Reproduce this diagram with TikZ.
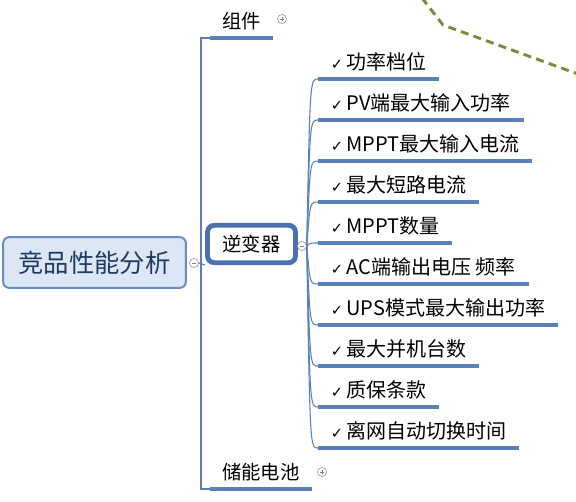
\documentclass[tikz,border=0pt]{standalone}
\usepackage{fontspec}
\setmainfont{Noto Sans CJK SC}
\newfontfamily\symfont{DejaVu Sans}
\usepackage{tikz}
\usetikzlibrary{positioning}

\definecolor{linkblue}{HTML}{5A80B8}
\definecolor{rootfill}{HTML}{DCE6F4}
\definecolor{rootdraw}{HTML}{6A8CC0}
\definecolor{rootink}{HTML}{1F3A5F}
\definecolor{invdraw}{HTML}{4A70B0}
\definecolor{relgreen}{HTML}{7A8C3C}

\newcommand{\tickmark}{{\symfont\fontsize{11pt}{11pt}\selectfont ✓}\hspace{2.5pt}}

\begin{document}
\begin{tikzpicture}[x=0.75pt,y=-0.75pt]

	%\draw[help lines,step=50] (0,0) grid (576,501);
	\useasboundingbox (0,0) rectangle (576,501);

	\tikzset{conn/.style={draw=linkblue,line width=0.8pt},
		uline/.style={draw=linkblue,line width=2.3pt},
		item/.style={anchor=south west,inner xsep=9.5pt,inner ysep=0pt,text height=11pt,text depth=7pt,font=\fontsize{15pt}{15pt}\selectfont},
		topic/.style={item,inner xsep=9pt,font=\fontsize{14.5pt}{14.5pt}\selectfont},
		fold/.style={draw=gray!90,circle,fill=white,inner sep=0pt,minimum size=6.8pt,line width=0.4pt},
		foldminus/.style={fold,path picture={\draw[gray,line width=0.4pt] ([xshift=-1.8pt]path picture bounding box.center) -- ([xshift=1.8pt]path picture bounding box.center);}},
		foldplus/.style={fold,path picture={\draw[gray,line width=0.4pt] ([xshift=-1.8pt]path picture bounding box.center) -- ([xshift=1.8pt]path picture bounding box.center) ([yshift=-1.8pt]path picture bounding box.center) -- ([yshift=1.8pt]path picture bounding box.center);}},
		relline/.style={draw=relgreen,line width=2.2pt,dash pattern=on 6pt off 4pt}}

	% relationship line (off to the right)

	\coordinate (relA) at (422,-2);
	\coordinate (relB) at (443,25);
	\coordinate (relC) at (578,74);
	\draw[relline] (relA) -- (relB) -- (relC);

	% central topic

	\node[draw=rootdraw,fill=rootfill,line width=1.5pt,rounded corners=4.5pt,minimum width=137pt,minimum height=38pt,text=rootink,font=\fontsize{19pt}{19pt}\selectfont] (root) at (94.5,262.5) {竞品性能分析};
	\node[foldminus] (rootc) at (194,263) {};

	% main branches

	\node[draw=invdraw,line width=3.6pt,rounded corners=5pt,minimum width=66pt,minimum height=28pt,font=\fontsize{14.5pt}{14.5pt}\selectfont] (inv) at (251.5,244) {逆变器};
	\node[topic] (zj) at (210,38) {组件};
	\node[topic] (cn) at (210,489) {储能电池};

	\coordinate (lhub) at (201,263);
	\draw[conn] (rootc.east) -- (inv.south west);
	\draw[conn] (lhub) |- (zj.south west);
	\draw[conn] (lhub) |- (cn.south west);
	\draw[uline] (zj.south west) -- (zj.south east);
	\draw[uline] (cn.south west) -- (cn.south east);

	\node[foldplus] (zjc) at (282,19) {};
	\node[foldplus] (cnc) at (322,472) {};
	\node[foldminus] (invc) at (302,246) {};

	% inverter items

	\foreach \yu/\txt [count=\k] in {79/功率档位, 120/PV端最大输入功率, 161/MPPT最大输入电流, 202/最大短路电流, 243/MPPT数量, 284/AC端输出电压 频率, 325/UPS模式最大输出功率, 366/最大并机台数, 407/质保条款, 448/离网自动切换时间} {
		\node[item] (i\k) at (318,\yu) {\tickmark\txt};
		\draw[conn] (invc.east) .. controls (310,\yu) and (310,\yu) .. (i\k.south west);
		\draw[uline] (i\k.south west) -- (i\k.south east);
	}

\end{tikzpicture}
\end{document}
